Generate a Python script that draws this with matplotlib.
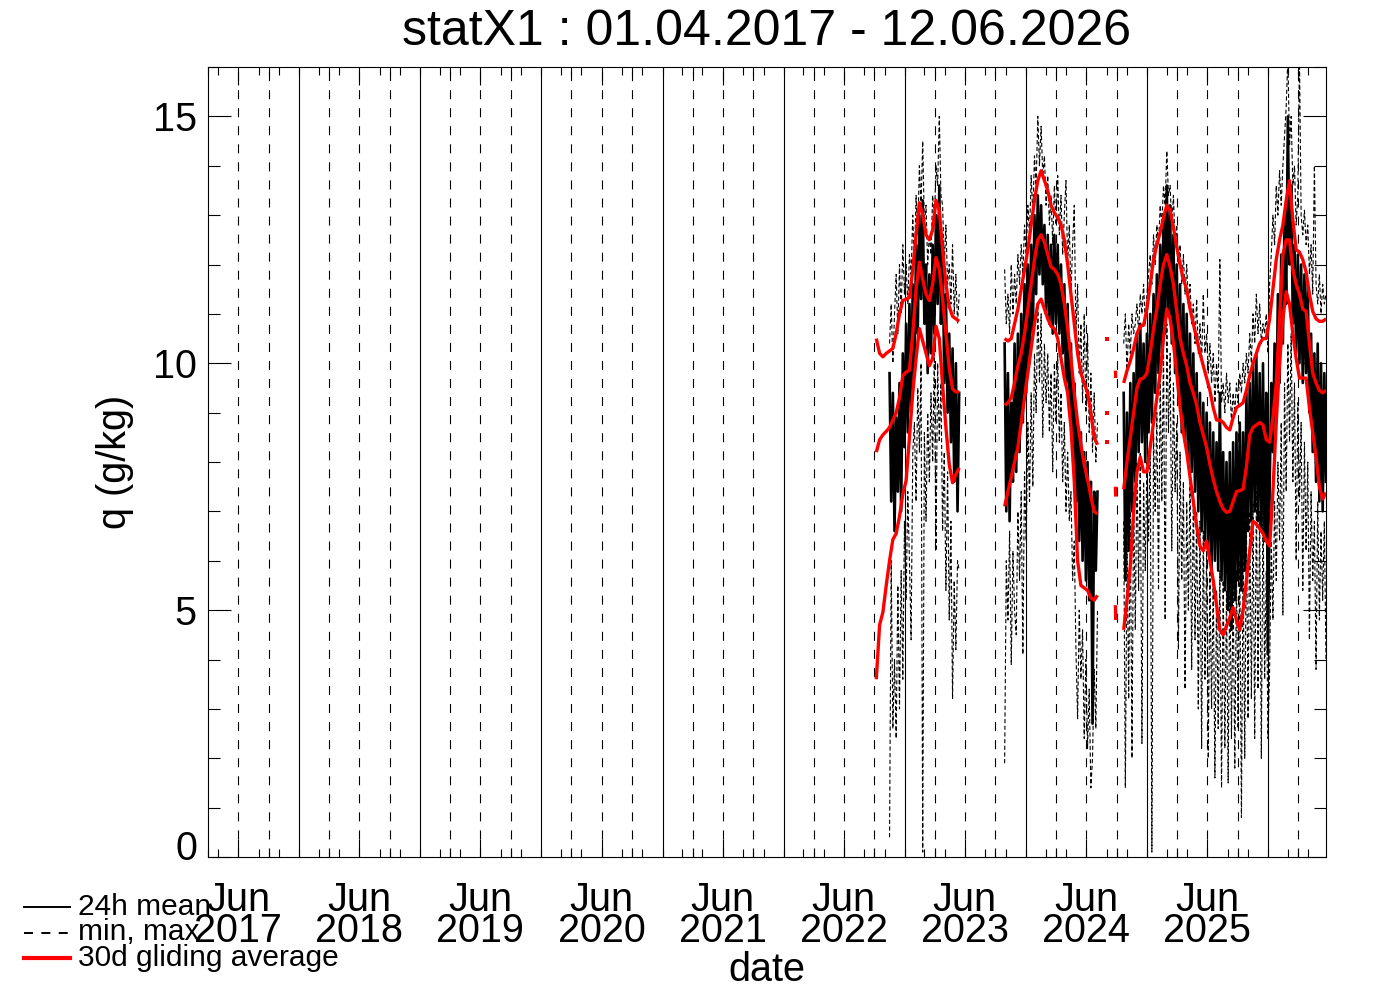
import numpy as np
import matplotlib
matplotlib.use('Agg')
import matplotlib.pyplot as plt
import matplotlib.dates as mdates
import matplotlib.transforms as mtransforms
from matplotlib.lines import Line2D

plt.rcParams['font.family'] = ['Liberation Sans', 'DejaVu Sans']
plt.rcParams['lines.scale_dashes'] = False

title = 'statX1 : 01.04.2017 - 12.06.2026'
x_first = np.datetime64('2017-04-01')
x_last = np.datetime64('2026-06-24')
label_years = ['2017', '2018', '2019', '2020', '2021', '2022', '2023', '2024', '2025']

# daily values sampled every 5 days, 30d averages every 10 days
step_day = 5
step_avg = 10

# ---- period 1 (autumn 2022 - summer 2023)
p1_start = np.datetime64('2022-11-16')
p1_mean = [9.8, 7.2, 9.4, 6.6, 8.9, 7.4, 9.6, 7.0, 10.2, 8.3,
           10.8, 8.6, 11.2, 9.0, 11.6, 9.8, 12.4, 10.6, 13.0, 11.3,
           13.3, 10.8, 12.0, 9.8, 11.8, 10.2, 12.4, 10.6, 13.0, 11.2,
           13.6, 10.8, 12.4, 9.6, 11.4, 9.0, 10.6, 8.4, 10.3, 7.6,
           10.0, 7.0, 9.4]
p1_min = [0.4, 6.0, 2.6, 4.0, 2.4, 5.5, 3.0, 5.8, 3.6, 6.8,
          5.2, 7.4, 6.0, 4.4, 8.2, 8.8, 7.2, 9.5, 8.2, 10.0,
          0.1, 8.6, 6.8, 9.0, 7.6, 9.4, 8.0, 10.2, 6.2, 10.0,
          8.4, 9.6, 6.6, 8.2, 5.4, 7.8, 4.8, 6.8, 3.2, 5.6,
          4.2, 6.0, 5.8]
p1_max = [10.4, 11.2, 10.0, 11.0, 11.8, 10.6, 12.0, 11.0, 12.4, 11.4,
          12.0, 11.2, 12.2, 11.8, 13.0, 12.0, 13.4, 12.6, 14.0, 13.2,
          14.5, 12.8, 13.2, 12.0, 12.6, 12.2, 13.4, 12.8, 14.0, 13.6,
          15.0, 13.4, 13.2, 12.0, 12.8, 11.6, 12.0, 11.2, 12.4, 11.0,
          11.8, 10.8, 11.4]
p1_avg_start = np.datetime64('2022-10-07')
p1_avg_max = [10.5, 10.2, 10.13, 10.2, 10.25, 10.3, 10.6, 11.0, 11.27, 11.3,
              11.33, 11.9, 12.6, 13.25, 13.0, 12.6, 12.5, 12.7, 13.3, 13.1,
              12.3, 11.6, 11.15, 10.95, 10.9, 10.85]
p1_avg_mean = [8.2, 8.45, 8.55, 8.62, 8.7, 8.85, 9.0, 9.3, 9.75, 9.82,
               9.86, 10.6, 11.5, 12.05, 11.7, 11.4, 11.27, 11.6, 12.14, 11.9,
               11.3, 10.6, 9.9, 9.48, 9.42, 9.42]
p1_avg_min = [3.6, 4.7, 4.96, 5.5, 6.0, 6.43, 6.55, 6.9, 7.35, 7.62,
              8.5, 9.4, 10.1, 10.7, 10.45, 10.2, 9.95, 10.1, 10.75, 10.5,
              9.55, 8.7, 7.95, 7.58, 7.75, 7.88]

# ---- period 2 (autumn 2023 - summer 2024)
p2_start = np.datetime64('2023-10-29')
p2_mean = [10.4, 7.0, 9.8, 6.8, 9.2, 7.6, 10.4, 7.8, 10.6, 8.2,
           11.0, 8.8, 11.6, 9.4, 12.0, 10.0, 12.4, 10.6, 13.0, 11.4,
           13.4, 11.8, 13.2, 11.6, 12.8, 11.0, 12.6, 10.8, 12.4, 10.6,
           12.6, 10.8, 12.4, 10.6, 12.0, 10.2, 11.6, 9.6, 11.2, 9.0,
           10.4, 8.2, 9.6, 7.2, 8.8, 6.4, 8.6, 6.0, 8.2, 5.6,
           8.0, 5.2, 7.6, 2.7, 7.4, 5.8, 7.4]
p2_min = [1.9, 6.0, 4.8, 6.6, 3.9, 6.2, 5.0, 4.5, 7.0, 5.6,
          7.4, 4.1, 7.8, 6.4, 8.8, 7.2, 9.4, 7.5, 10.2, 9.0,
          11.2, 9.6, 11.0, 8.5, 10.4, 9.2, 10.2, 8.6, 9.8, 7.8,
          10.0, 8.8, 10.2, 8.4, 9.4, 7.6, 8.8, 7.0, 8.2, 6.8,
          7.4, 5.6, 6.4, 4.2, 2.8, 5.0, 3.6, 4.6, 2.4, 4.0,
          2.2, 3.4, 1.4, 2.0, 3.8, 2.6, 5.0]
p2_max = [11.9, 10.8, 11.4, 10.6, 12.0, 11.0, 11.8, 11.2, 12.2, 11.6,
          12.4, 11.8, 12.8, 12.2, 13.2, 12.6, 13.8, 13.0, 14.2, 13.6,
          15.0, 14.0, 14.8, 13.8, 14.2, 13.2, 13.8, 12.8, 13.4, 12.4,
          13.6, 12.8, 13.8, 12.6, 13.4, 12.2, 13.0, 13.7, 12.0, 12.8,
          11.4, 12.4, 13.2, 10.6, 11.6, 9.8, 10.8, 9.2, 11.0, 9.0,
          10.6, 8.6, 9.8, 8.2, 9.4, 8.0, 8.8]
p2_avg_start = np.datetime64('2023-10-29')
p2_avg_max = [10.5, 10.45, 10.5, 10.8, 11.1, 11.5, 11.9, 12.3, 12.8, 13.3,
              13.7, 13.9, 13.7, 13.5, 13.2, 13.05, 12.95, 12.8, 12.5, 12.0,
              11.4, 10.8, 10.2, 9.8, 9.6, 9.4, 9.0, 8.5, 8.35]
p2_avg_mean = [9.15, 9.2, 9.3, 9.6, 9.95, 10.2, 10.6, 11.1, 11.6, 12.1,
               12.5, 12.6, 12.45, 12.2, 11.95, 11.9, 11.8, 11.6, 11.2, 10.7,
               10.1, 9.4, 8.8, 8.35, 7.95, 7.65, 7.3, 7.0, 6.95]
p2_avg_min = [7.1, 7.4, 7.7, 8.0, 8.3, 8.8, 9.3, 9.8, 10.3, 10.8,
              11.2, 11.3, 11.1, 10.9, 10.75, 10.7, 10.5, 10.1, 9.7, 9.4,
              8.7, 7.6, 6.0, 5.5, 5.45, 5.4, 5.25, 5.2, 5.3]

# ---- isolated 30d averages in late summer 2024
iso_dot_day = [np.datetime64('2024-09-02')]
iso_dot_max = [10.5]
iso_dot_mean = [9.0]
iso_dot_min = [8.4]
iso_bar_days = [np.datetime64('2024-09-27'), np.datetime64('2024-09-28')]
iso_bar_max = [9.85, 9.7]
iso_bar_mean = [7.5, 7.3]
iso_bar_min = [5.1, 4.8]

# ---- period 3 (autumn 2024 - summer 2026)
p3_start = np.datetime64('2024-10-22')
p3_mean = [9.4, 5.6, 9.0, 6.2, 9.6, 7.0, 9.8, 7.6, 10.6, 8.2,
           10.8, 8.4, 10.4, 8.0, 10.6, 8.6, 11.0, 8.8, 11.4, 9.4,
           11.8, 9.8, 12.4, 10.2, 13.0, 10.6, 13.6, 11.0, 13.2, 10.4,
           12.6, 9.8, 12.0, 9.2, 11.6, 8.6, 11.2, 8.4, 11.0, 8.0,
           10.6, 7.8, 10.2, 7.4, 9.8, 7.0, 9.4, 6.6, 9.2, 6.4,
           9.0, 6.2, 8.8, 5.8, 8.6, 6.0, 8.4, 5.8, 9.4, 5.6,
           8.2, 5.4, 8.0, 5.0, 8.2, 4.6, 8.4, 5.2, 8.6, 5.6,
           8.8, 5.4, 8.6, 5.8, 9.4, 6.6, 9.6, 6.8, 10.0, 7.0,
           10.2, 6.8, 9.8, 6.6, 10.0, 6.4, 9.4, 4.1, 7.4, 9.6,
           8.2, 10.4, 8.8, 11.4, 9.6, 12.2, 10.4, 13.0, 11.2, 15.0,
           12.0, 13.6, 10.8, 12.4, 10.2, 12.2, 10.0, 12.0, 9.6, 11.8,
           9.8, 11.6, 9.0, 10.6, 8.2, 10.2, 7.6, 10.4, 7.2, 10.0,
           7.0, 9.8, 7.6]
p3_min = [6.8, 1.4, 6.4, 3.2, 7.0, 2.0, 7.4, 4.6, 8.0, 5.4,
          8.2, 2.3, 7.6, 5.8, 8.0, 6.4, 8.4, 0.1, 8.6, 7.0,
          9.0, 5.4, 9.8, 7.2, 10.4, 4.8, 10.8, 8.6, 10.2, 6.2,
          9.6, 7.4, 8.8, 4.2, 8.2, 5.6, 7.6, 3.4, 7.2, 5.0,
          7.8, 3.8, 7.4, 4.4, 7.0, 3.0, 6.8, 2.2, 6.6, 3.6,
          6.2, 2.0, 5.8, 3.0, 5.6, 1.6, 5.4, 2.6, 5.8, 1.4,
          5.6, 2.2, 5.4, 1.5, 5.8, 2.4, 5.6, 1.8, 5.8, 2.6,
          6.0, 0.8, 6.2, 2.0, 6.8, 2.8, 7.0, 3.2, 7.2, 2.4,
          7.4, 3.4, 7.0, 2.0, 7.2, 3.6, 5.8, 2.4, 3.8, 6.4,
          4.8, 7.2, 5.6, 8.0, 6.4, 8.8, 4.9, 9.6, 7.4, 10.4,
          8.4, 10.6, 7.6, 9.6, 6.0, 9.2, 7.2, 8.8, 5.4, 8.4,
          6.2, 8.0, 4.4, 7.4, 5.6, 6.8, 3.8, 7.2, 4.8, 6.6,
          5.2, 6.8, 4.0]
p3_max = [10.4, 11.0, 9.8, 10.8, 10.2, 11.0, 10.6, 10.8, 11.2, 10.6,
          11.4, 11.0, 11.6, 10.8, 11.4, 11.8, 12.2, 11.6, 12.6, 12.0,
          12.8, 12.4, 13.2, 12.8, 13.6, 13.2, 14.3, 13.4, 13.6, 12.8,
          13.4, 12.4, 12.8, 12.0, 12.4, 11.6, 12.2, 11.4, 12.0, 11.2,
          11.6, 10.8, 11.2, 10.4, 11.3, 10.2, 10.8, 10.0, 11.4, 10.2,
          10.6, 9.8, 10.4, 9.6, 10.2, 9.2, 10.0, 9.4, 12.1, 9.2,
          9.6, 9.0, 9.8, 9.2, 9.6, 8.8, 9.4, 9.0, 9.6, 9.2,
          9.8, 9.4, 10.0, 9.6, 10.2, 9.8, 10.6, 10.0, 11.0, 10.4,
          11.4, 10.6, 11.2, 10.4, 10.8, 10.6, 11.0, 10.2, 11.6, 12.2,
          13.0, 12.4, 13.6, 13.0, 13.9, 13.2, 14.0, 14.6, 15.2, 16.2,
          14.4, 15.0, 13.6, 14.0, 12.8, 13.4, 16.2, 13.0, 12.6, 13.1,
          12.4, 12.8, 11.8, 12.4, 11.4, 14.0, 11.6, 11.2, 11.8, 11.0,
          11.6, 11.2, 11.4]
p3_avg_start = np.datetime64('2024-10-22')
p3_avg_max = [9.6, 9.85, 10.05, 10.3, 10.6, 10.75, 10.77, 11.1, 11.6, 12.1,
              12.4, 12.65, 12.95, 13.2, 13.1, 12.75, 12.35, 12.0, 11.7, 11.5,
              11.1, 10.8, 10.5, 10.2, 9.95, 9.7, 9.45, 9.1, 8.85, 8.85,
              8.8, 8.7, 8.65, 8.9, 9.1, 9.15, 9.2, 9.45, 9.75, 10.0,
              10.2, 10.4, 10.5, 10.5, 10.9, 11.5, 12.1, 12.5, 12.8, 13.3,
              13.7, 12.9, 12.3, 12.25, 12.1, 11.85, 11.4, 11.05, 10.9, 10.85,
              10.85, 10.9]
p3_avg_mean = [7.45, 8.0, 8.5, 9.0, 9.5, 9.68, 9.7, 9.8, 10.2, 10.7,
               11.1, 11.6, 12.0, 12.2, 11.95, 11.6, 11.05, 10.5, 10.2, 9.95,
               9.6, 9.4, 9.15, 8.8, 8.55, 8.3, 7.95, 7.65, 7.4, 7.2,
               7.05, 6.98, 7.0, 7.2, 7.4, 7.42, 7.45, 7.9, 8.55, 8.7,
               8.75, 8.8, 8.75, 8.45, 8.4, 8.9, 9.6, 10.9, 12.2, 12.5,
               12.5, 11.9, 11.6, 11.4, 11.1, 11.05, 10.4, 9.8, 9.6, 9.45,
               9.4, 9.45]
p3_avg_min = [4.6, 5.2, 5.9, 7.0, 7.8, 8.1, 7.8, 7.8, 8.3, 8.8,
              9.3, 9.8, 10.5, 11.1, 10.9, 10.4, 9.8, 9.1, 8.6, 8.2,
              7.7, 7.2, 6.7, 6.3, 6.2, 6.4, 6.0, 5.6, 5.1, 4.6,
              4.5, 4.68, 4.85, 5.05, 4.8, 4.6, 5.0, 5.6, 6.2, 6.8,
              6.75, 6.65, 6.55, 6.4, 6.3, 7.4, 8.8, 10.0, 10.9, 11.45,
              11.2, 10.6, 10.1, 9.7, 9.7, 9.7, 9.1, 8.6, 8.1, 7.5,
              7.25, 7.38]


def day_axis(start, values, step):
    return start + np.arange(len(values)) * np.timedelta64(step, 'D')


fig = plt.figure(figsize=(13.88, 9.92), dpi=100)
ax = fig.add_axes([208 / 1388, 1 - 857 / 992, 1118 / 1388, 790 / 992])

# year lines (solid) and quarter lines (dashed)
for yr in range(2017, 2027):
    jan = np.datetime64('%d-01-01' % yr)
    if x_first < jan < x_last:
        ax.axvline(jan, color='k', lw=0.8, zorder=1)
    for mon in ('04', '07', '10'):
        q = np.datetime64('%d-%s-01' % (yr, mon))
        if x_first < q < x_last:
            ax.axvline(q, color='k', lw=0.8, dashes=(6.5, 6.5), zorder=1)

periods = [(p1_start, p1_mean, p1_min, p1_max,
            p1_avg_start, p1_avg_max, p1_avg_mean, p1_avg_min),
           (p2_start, p2_mean, p2_min, p2_max,
            p2_avg_start, p2_avg_max, p2_avg_mean, p2_avg_min),
           (p3_start, p3_mean, p3_min, p3_max,
            p3_avg_start, p3_avg_max, p3_avg_mean, p3_avg_min)]

for start, mean, mn, mx, astart, amax, amean, amin in periods:
    d = day_axis(start, mean, step_day)
    ax.plot(d, mn, color='k', lw=0.8, dashes=(3.0, 1.8), zorder=2)
    ax.plot(d, mx, color='k', lw=0.8, dashes=(3.0, 1.8), zorder=2)
    ax.plot(d, mean, color='k', lw=1.9, zorder=3)
    da = day_axis(astart, amean, step_avg)
    for vals in (amax, amean, amin):
        ax.plot(da, vals, color='red', lw=2.4, zorder=4, solid_capstyle='butt')

for vals in (iso_dot_max, iso_dot_mean, iso_dot_min):
    ax.plot(iso_dot_day, vals, 's', color='red', ms=2.4, mew=0, zorder=4)
for vals in (iso_bar_max, iso_bar_mean, iso_bar_min):
    ax.plot(iso_bar_days, vals, color='red', lw=2.4, zorder=4, solid_capstyle='butt')

ax.set_xlim(x_first, x_last)
ax.set_ylim(0, 16)

# axis ticks
ax.set_xticks([np.datetime64(y + '-07-01') for y in label_years])
ax.set_xticklabels(['Jun\n' + y for y in label_years], fontsize=28.5, linespacing=0.78)
ax.xaxis.set_minor_locator(mdates.MonthLocator(bymonth=[1, 3, 4, 5, 9, 10, 11]))
ax.set_yticks([0, 5, 10, 15])
ax.set_yticklabels(['0', '5', '10', '15'], fontsize=28.5)
ax.set_yticks(np.arange(0, 17, 1), minor=True)
ax.tick_params(axis='x', which='major', direction='in', length=13, width=0.8,
               top=True, pad=17)
ax.tick_params(axis='x', which='minor', direction='in', length=6, width=0.8, top=True)
ax.tick_params(axis='y', which='major', direction='in', length=16.5, width=0.8,
               right=True, pad=8)
ax.tick_params(axis='y', which='minor', direction='in', length=8.5, width=0.8, right=True)
for s in ax.spines.values():
    s.set_linewidth(0.8)

# the "0" label sits a little above its tick in the original
zero_lab = ax.yaxis.get_major_ticks()[0].label1
zero_lab.set_transform(zero_lab.get_transform() +
                       mtransforms.ScaledTranslation(0, 0.12, fig.dpi_scale_trans))

ax.set_xlabel('date', fontsize=28.5)
ax.xaxis.set_label_coords(0.5, -0.143)
ax.xaxis.label.set_va('center')
ax.set_ylabel('q (g/kg)', fontsize=28.5)
ax.yaxis.set_label_coords(-0.083, 0.5)
ax.yaxis.label.set_va('center')

fig.text(767 / 1388, 1 - 32 / 992, title, ha='center', va='center', fontsize=36)

# legend below the plot
leg_items = [('24h mean', 'k', 1.4, '-'), ('min, max', 'k', 1.4, '--'),
             ('30d gliding average', 'red', 3.0, '-')]
for k, (txt, col, lw, ls) in enumerate(leg_items):
    yy = 1 - (907 + 25.5 * k) / 992
    ln = Line2D([24 / 1388, 70 / 1388], [yy, yy], color=col, lw=lw,
                transform=fig.transFigure)
    if ls == '--':
        ln.set_dashes((6.5, 6.0))
    fig.add_artist(ln)
    fig.text(78 / 1388, yy, txt, fontsize=21.5, va='center', ha='left')

fig.savefig('out.png', dpi=100)
